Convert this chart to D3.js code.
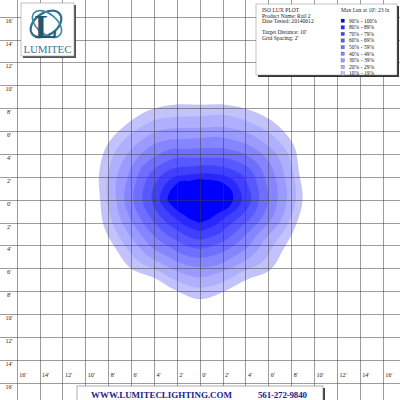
<!DOCTYPE html>
<meta charset="utf-8">
<head>
<style>
body { margin: 0; background: #fff; }
svg { display: block; }
.grid line { stroke: #3c3c3c; stroke-opacity: 0.5; stroke-width: 1px; }
.tick-label { font: 6px "Liberation Serif", serif; fill: #222; }
.legend text { font: 5.6px "Liberation Serif", serif; fill: #222; }
</style>
<script src="https://d3js.org/d3.v7.min.js"></script>
</head>
<body>
<svg width="400" height="400"></svg>
<script>

// grid marks in feet
var gridFeet = [-16, -14, -12, -10, -8, -6, -4, -2, 0, 2, 4, 6, 8, 10, 12, 14, 16];

// lux bands, from the brightest core outwards
var bandLabels = ["90% - 100%", "80% - 89%", "70% - 79%", "60% - 69%", "50% - 59%",
                  "40% - 49%", "30% - 39%", "20% - 29%", "10% - 19%"];
var bandColors = ["#0000ff", "#2828ff", "#4040ff", "#5858ff", "#6f6fff",
                  "#8585ff", "#9b9bff", "#afafff", "#c3c3fb"];

// angles of the measured radii, degrees clockwise from straight up
var angles = [0, 15, 30, 45, 60, 75, 90, 105, 120, 135, 150, 165,
              180, 195, 210, 225, 240, 255, 270, 285, 300, 315, 330, 345];

// radius of each band edge, in feet, one row per band (core first)
var band90 = [1.8, 1.8, 2.0, 2.3, 2.6, 2.9, 2.9, 2.6, 2.1, 1.9, 1.9, 1.9,
              2.0, 1.9, 1.9, 1.9, 2.1, 2.4, 2.8, 2.7, 2.5, 2.3, 1.9, 1.8];
var band80 = [2.3, 2.4, 2.6, 3.0, 3.4, 3.6, 3.7, 3.3, 2.8, 2.6, 2.6, 2.6,
              2.7, 2.6, 2.6, 2.6, 2.8, 3.1, 3.5, 3.4, 3.2, 2.9, 2.5, 2.3];
var band70 = [3.0, 3.1, 3.4, 3.8, 4.3, 4.4, 4.5, 4.1, 3.6, 3.4, 3.4, 3.4,
              3.5, 3.4, 3.3, 3.4, 3.6, 3.9, 4.2, 4.2, 4.0, 3.7, 3.3, 3.0];
var band60 = [3.7, 3.8, 4.2, 4.7, 5.2, 5.2, 5.2, 4.9, 4.4, 4.2, 4.2, 4.2,
              4.3, 4.2, 4.1, 4.2, 4.4, 4.7, 5.0, 5.0, 4.9, 4.5, 4.2, 3.8];
var band50 = [4.5, 4.7, 5.1, 5.6, 6.0, 6.0, 6.0, 5.7, 5.2, 5.0, 5.0, 5.0,
              5.1, 5.0, 4.9, 5.0, 5.2, 5.5, 5.8, 5.8, 5.8, 5.4, 5.1, 4.6];
var band40 = [5.4, 5.7, 6.0, 6.5, 6.9, 6.9, 6.8, 6.5, 5.9, 5.9, 5.8, 5.9,
              5.9, 5.8, 5.7, 5.9, 6.0, 6.3, 6.6, 6.6, 6.6, 6.4, 6.0, 5.5];
var band30 = [6.3, 6.6, 7.0, 7.4, 7.8, 7.7, 7.6, 7.3, 6.7, 6.7, 6.6, 6.6,
              6.8, 6.6, 6.5, 6.7, 6.8, 7.1, 7.3, 7.5, 7.5, 7.3, 7.0, 6.5];
var band20 = [7.3, 7.7, 8.0, 8.4, 8.7, 8.5, 8.4, 8.0, 7.6, 7.7, 7.3, 7.5,
              7.7, 7.4, 7.2, 7.6, 7.7, 7.9, 8.1, 8.3, 8.5, 8.3, 8.0, 7.5];
var band10 = [8.3, 8.6, 9.0, 9.4, 9.5, 9.0, 9.0, 8.7, 8.5, 8.7, 8.1, 8.3,
              8.7, 8.2, 7.9, 8.5, 8.5, 8.7, 8.7, 9.1, 9.4, 9.2, 9.0, 8.6];
var bands = [band90, band80, band70, band60, band50, band40, band30, band20, band10];

var infoLines = ["ISO LUX PLOT", "Product Name: Rail 2", "Date Tested: 20140612", "",
                 "Target Distance: 10'", "Grid Spacing: 2'"];
var maxLux = "Max Lux at 10': 23 lx";

var svg = d3.select("svg"),
    width = +svg.attr("width"),
    height = +svg.attr("height");

var x = d3.scaleLinear().domain([-16, 16]).range([16.7, 382.7]);
var y = d3.scaleLinear().domain([16, -16]).range([16.7, 382.7]);
var r = d3.scaleLinear().domain([0, 16]).range([0, x(16) - x(0)]);

svg.append("rect").attr("width", width).attr("height", height).attr("fill", "#fff");

// lux bands, outer first so the core sits on top
var radial = d3.lineRadial()
    .angle(function(d) { return d.a * Math.PI / 180; })
    .radius(function(d) { return r(d.v); })
    .curve(d3.curveCatmullRomClosed.alpha(0.5));

svg.append("g")
    .attr("transform", "translate(" + x(0) + "," + y(0) + ")")
  .selectAll("path")
  .data(bands.map(function(b, i) { return {radii: b, color: bandColors[i]}; }).reverse())
  .enter().append("path")
    .attr("d", function(d) {
      return radial(d.radii.map(function(v, j) { return {a: angles[j], v: v}; }));
    })
    .attr("fill", function(d) { return d.color; });

// grid on top
var grid = svg.append("g").attr("class", "grid");
grid.selectAll(".v").data(gridFeet).enter().append("line")
    .attr("x1", function(d) { return Math.round(x(d)) + 0.5; })
    .attr("x2", function(d) { return Math.round(x(d)) + 0.5; })
    .attr("y1", 0).attr("y2", height);
grid.selectAll(".h").data(gridFeet).enter().append("line")
    .attr("y1", function(d) { return Math.round(y(d)) + 0.5; })
    .attr("y2", function(d) { return Math.round(y(d)) + 0.5; })
    .attr("x1", 0).attr("x2", width);

// left labels, just under each line
svg.append("g").selectAll("text")
  .data(gridFeet)
  .enter().append("text")
    .attr("class", "tick-label")
    .attr("x", 9)
    .attr("y", function(d) { return y(d) + 6; })
    .attr("text-anchor", "middle")
    .text(function(d) { return Math.abs(d) + "'"; });

// bottom labels, inside the last row
svg.append("g").selectAll("text")
  .data(gridFeet)
  .enter().append("text")
    .attr("class", "tick-label")
    .attr("x", function(d) { return x(d) + 2.5; })
    .attr("y", y(-14) + 17)
    .text(function(d) { return Math.abs(d) + "'"; });

// logo
var logo = svg.append("g");
logo.append("rect").attr("x", 23).attr("y", 5).attr("width", 53).attr("height", 53).attr("fill", "#555");
logo.append("rect").attr("x", 21).attr("y", 3).attr("width", 53).attr("height", 53)
    .attr("fill", "#fff").attr("stroke", "#999").attr("stroke-width", 0.6);
logo.append("ellipse").attr("cx", 46).attr("cy", 24).attr("rx", 17).attr("ry", 11)
    .attr("transform", "rotate(-35,46,24)")
    .attr("fill", "none").attr("stroke", "#2e6f8c").attr("stroke-width", 2.2);
logo.append("ellipse").attr("cx", 47).attr("cy", 24).attr("rx", 17).attr("ry", 10)
    .attr("transform", "rotate(40,47,24)")
    .attr("fill", "none").attr("stroke", "#3d86a6").attr("stroke-width", 1.6);
logo.append("text").attr("x", 46).attr("y", 38).attr("text-anchor", "middle")
    .attr("font-family", "Liberation Serif, serif").attr("font-size", 34).attr("font-weight", "bold")
    .attr("fill", "#1f5670").text("L");
logo.append("text").attr("x", 47.5).attr("y", 53).attr("text-anchor", "middle")
    .attr("font-family", "Liberation Serif, serif").attr("font-size", 11)
    .attr("fill", "#3a7a98").attr("textLength", 48).text("LUMITEC");

// legend box
var legend = svg.append("g").attr("class", "legend");
legend.append("rect").attr("x", 258).attr("y", 6).attr("width", 141).attr("height", 71).attr("fill", "#333");
legend.append("rect").attr("x", 256).attr("y", 4).attr("width", 141).attr("height", 71)
    .attr("fill", "#fff").attr("stroke", "#888").attr("stroke-width", 0.5);
legend.selectAll(".info").data(infoLines).enter().append("text")
    .attr("x", 262)
    .attr("y", function(d, i) { return 12 + i * 5.5; })
    .text(function(d) { return d; });
legend.append("text").attr("x", 341).attr("y", 12).text(maxLux);
var rows = legend.selectAll(".row").data(bandLabels).enter().append("g")
    .attr("transform", function(d, i) { return "translate(341," + (19 + i * 6.6) + ")"; });
rows.append("rect").attr("width", 3.5).attr("height", 3.5)
    .attr("fill", function(d, i) { return bandColors[i]; })
    .attr("stroke", "#666").attr("stroke-width", 0.3);
rows.append("text").attr("x", 8).attr("y", 3.6).text(function(d) { return d; });

// footer banner
var banner = svg.append("g");
banner.append("rect").attr("x", 79).attr("y", 388).attr("width", 246).attr("height", 20).attr("fill", "#444");
banner.append("rect").attr("x", 77).attr("y", 386).attr("width", 246).attr("height", 20)
    .attr("fill", "#fff").attr("stroke", "#777").attr("stroke-width", 0.6);
banner.append("text").attr("x", 91).attr("y", 397.5)
    .attr("font-family", "Liberation Serif, serif").attr("font-size", 9).attr("font-weight", "bold")
    .attr("fill", "#22238c").attr("textLength", 141).text("WWW.LUMITECLIGHTING.COM");
banner.append("text").attr("x", 258).attr("y", 397.5)
    .attr("font-family", "Liberation Serif, serif").attr("font-size", 9).attr("font-weight", "bold")
    .attr("fill", "#22238c").attr("textLength", 49).text("561-272-9840");

</script>
</body>
